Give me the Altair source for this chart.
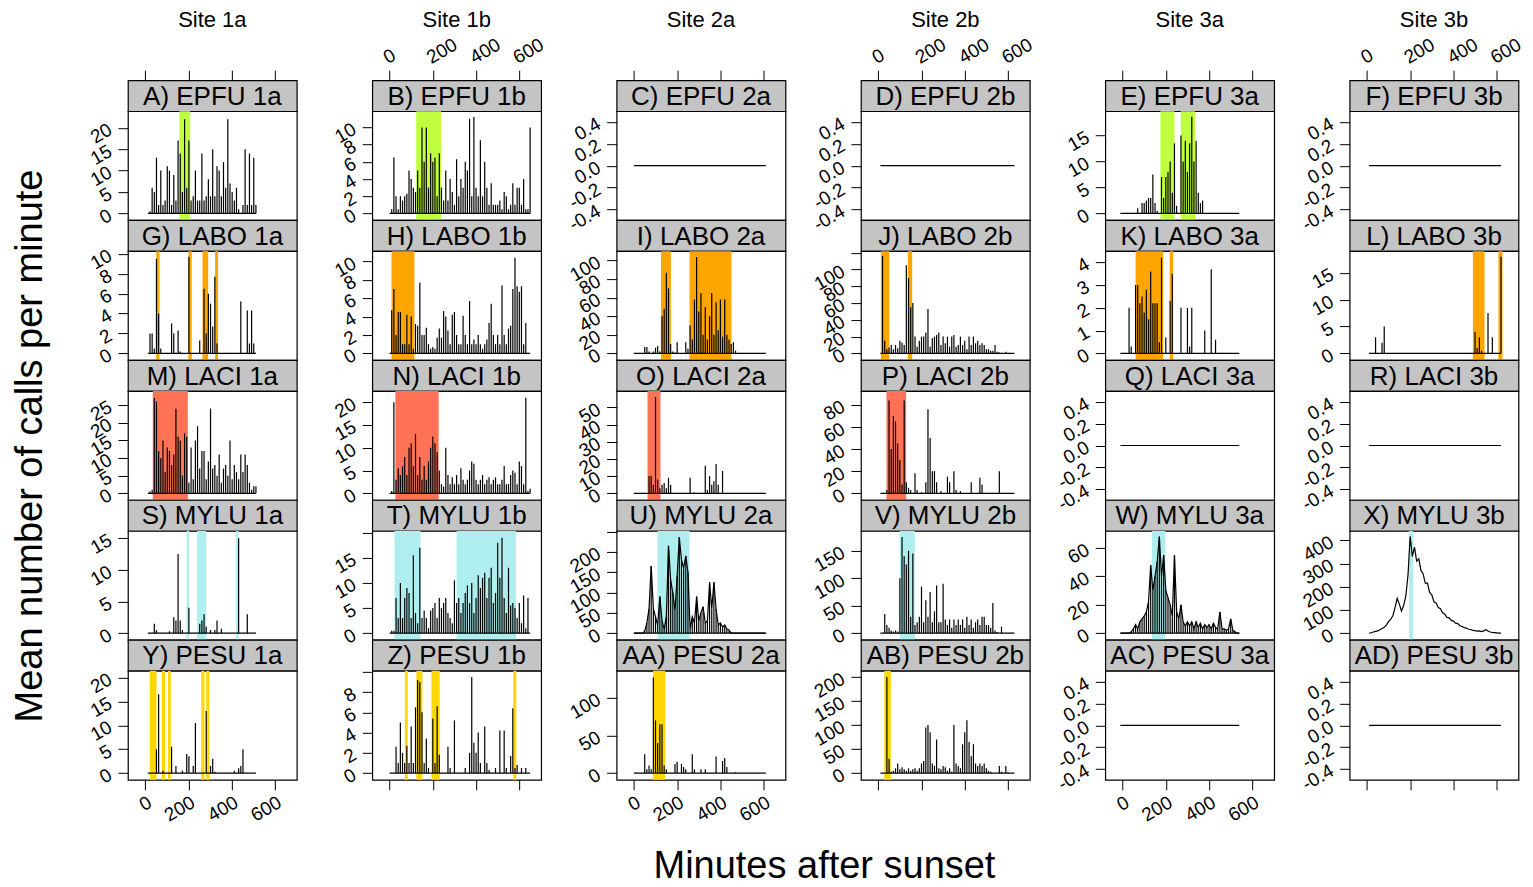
import altair as alt
import pandas as pd

FONT = "Liberation Sans"
W = 169
SH = 31
PH = 109
TITLE_H = 71
COL_GAP = 75.5
XDOM = [-80, 701]
XTICKS = [0, 200, 400, 600]
STEP = 10
STRIP_FILL = "#C4C4C4"
STRIP_FS = 26
TICK_FS = 19

SITE_LABELS = ["Site 1a", "Site 1b", "Site 2a", "Site 2b", "Site 3a", "Site 3b"]
SITE_CODES = ["1a", "1b", "2a", "2b", "3a", "3b"]
SPECIES = ["EPFU", "LABO", "LACI", "MYLU", "PESU"]
LETTERS = [
    ["A", "B", "C", "D", "E", "F"],
    ["G", "H", "I", "J", "K", "L"],
    ["M", "N", "O", "P", "Q", "R"],
    ["S", "T", "U", "V", "W", "X"],
    ["Y", "Z", "AA", "AB", "AC", "AD"],
]
SITE_START = [12, 0, 0, 10, -10, 10]
SITE_END = [512, 650, 610, 630, 540, 620]
BAND_COLORS = {"EPFU": "#C0FF3E", "LABO": "#FFA500", "LACI": "#FF7256",
               "MYLU": "#AEEEEE", "PESU": "#FFD700"}
X_TITLE = "Minutes after sunset"
Y_TITLE = "Mean number of calls per minute"
# panels drawn as a continuous curve only / curve on top of the per-minute spikes
CURVE_ONLY = ["X"]
CURVE_AND_SPIKES = ["U", "W"]

# ---- series values (mean calls per minute, one value every 10 minutes from the site start)
A_vals = [0, 0.5, 6, 5, 13, 2, 10, 2, 3, 11, 10, 2, 9, 3, 17, 14, 5, 22, 6, 17, 3, 4, 10, 3, 3,
          14, 3, 4, 8, 4, 15, 4, 11, 10, 4, 12, 6, 22, 7, 5, 3, 6, 1, 0, 2, 15, 2, 14, 2, 13, 2]
G_vals = [0, 2, 2, 0.5, 9.5, 4, 0.5, 0, 0, 0, 0, 3, 2, 0, 2.3, 0.2, 0, 0, 0, 9.7,
          0, 0, 0, 0, 1.3, 0, 6.5, 2, 6, 5, 2.7, 7.7, 1, 0, 0, 0, 0, 0, 0, 0,
          0, 0, 0, 5.2, 0, 0, 4.3, 1, 4.3, 1, 0]
M_vals = [0, 0.5, 1, 27, 26, 12, 10, 15, 6, 13, 12, 8, 11, 24, 16, 15, 5, 17, 16, 3,
          13, 4, 15, 19, 7, 12, 12, 4, 9, 24, 7, 8, 5, 11, 3, 7, 8, 5, 15, 4,
          8, 6, 4, 11, 6, 11, 8, 3, 1, 2, 2]
S_vals = [0, 0, 0, 1.5, 0.5, 0, 0, 0, 0, 0, 0.3, 0, 2.5, 2, 12.5, 2, 0.5, 0, 0, 4,
          0, 0, 0, 0, 1.5, 2, 3, 1, 0, 0.5, 0, 0.5, 2, 0, 0.7, 0, 0, 0, 0, 0,
          0, 0, 15, 0, 0, 0, 3, 0, 0, 0, 0]
Y_vals = [0, 0, 0, 0, 5, 16.5, 0, 0.5, 0, 0, 0, 5.5, 0, 1.5, 0, 0, 0.5, 0, 4, 3.5,
          0, 1.5, 10.5, 0, 0, 0, 0, 13, 0, 1.5, 3, 0.3, 0, 0, 0, 0, 0, 0, 0, 0,
          0.5, 0, 1, 1.5, 5, 0, 0, 0, 0, 0, 0]
B_vals = [0, 0.5, 6.5, 2, 0.5, 2, 1.5, 2, 2.3, 5, 4, 3, 2.5, 5, 3, 10, 6, 10, 3, 7,
          6, 6.5, 2, 7, 3, 1.5, 5, 1.5, 4, 2.5, 1, 6.3, 2, 4, 3, 6, 5, 11, 2, 11.2,
          3, 2, 8.5, 2, 6, 3, 1, 3.5, 1, 1, 1, 1.5, 0.5, 2.5, 2, 0.5, 1, 3.5, 1, 3,
          3, 1, 4, 0.5, 0.5, 10]
H_vals = [0, 4.7, 7, 2, 4.5, 4.5, 1, 1, 4.2, 1, 4, 0.5, 3.2, 3, 7.7, 2, 2, 2.8, 1, 0.5,
          0.7, 0.5, 1.7, 2.7, 1.7, 4.6, 4, 2.5, 1, 4.2, 4.5, 2, 1, 1, 4.1, 2, 1, 5.7, 1, 1.5,
          1, 2, 1, 0.5, 1, 1.5, 3.3, 5.4, 2, 1, 2, 1, 7.4, 2, 1, 2.7, 3, 7, 10.4, 7.3,
          6.7, 7.3, 1, 3.3, 0, 0]
N_vals = [0, 0.5, 20, 3, 5.5, 4, 6, 8, 4, 10, 11, 6, 13, 4, 8, 3, 6, 3, 7, 10,
          12.5, 11, 9, 5, 2, 1.5, 10, 4, 2, 3.5, 2, 4, 2, 5.5, 3, 2, 3, 5, 7, 6.5,
          3, 2, 3, 4, 2, 3, 3.5, 2, 3, 3.5, 2, 2, 3, 6, 2, 2, 4, 5, 4.5, 2,
          7, 6, 2, 21, 0.5, 1]
T_vals = [0, 0.5, 0.5, 7, 3, 10, 3, 7, 9, 8, 3, 15.5, 4, 2, 17, 3, 4.5, 3, 1, 4.5,
          5, 6, 3, 7, 5, 6, 7, 4, 3, 2, 10.5, 6, 7, 4, 6, 8, 9.5, 6, 10, 4,
          7, 11.5, 9, 11, 12, 7, 11, 13, 6, 8, 18, 11, 19, 7, 4, 13, 5.5, 6, 5, 3,
          6, 2, 7.5, 1, 7, 0]
Z_vals = [0, 0, 0, 2.6, 1, 5, 2, 1, 2.7, 1, 4.6, 1, 6.5, 9.2, 9, 6, 1, 3.4, 0.5, 0,
          5.4, 1, 6.6, 1.8, 0, 0, 0, 2.6, 0.5, 0, 5.2, 0, 0, 0, 0, 0.5, 0, 2, 9.5, 3,
          2, 4, 1, 0, 4.6, 1, 0.3, 0, 0, 0.5, 0, 4.2, 0, 4.2, 0.5, 0, 1.7, 6.4, 0.5, 0.8,
          0, 0.5, 0, 0.5, 0, 0]
I_vals = [0, 0, 0, 0, 0, 7, 7, 2, 0, 2, 6, 8, 2, 40, 48, 87, 70, 10, 2, 1,
          12, 0, 0, 0, 12, 5, 30, 15, 58, 104, 45, 65, 20, 50, 15, 40, 65, 20, 55, 25,
          58, 18, 58, 20, 15, 10, 12, 3, 0, 0, 0, 0, 0, 0, 0, 0, 0, 0, 0, 0, 0, 0]
O_vals = [0, 0, 0, 0, 0, 0, 0, 10, 10, 5, 56, 8, 3, 5, 6, 3, 9, 5, 0, 0,
          0, 0, 0, 0, 0, 0, 9, 0, 0.5, 0, 0, 0, 0, 16, 2, 10, 5, 7, 17, 5,
          0, 13, 0, 0, 0, 0, 0, 0, 0, 0, 0, 0, 0, 0, 0, 0, 0, 0, 0, 0, 0, 0]
U_vals = [0, 0, 0, 0, 0, 5, 25, 60, 165, 60, 40, 20, 90, 30, 10, 40, 215, 130, 100, 55,
          140, 236, 180, 160, 190, 150, 10, 40, 25, 90, 30, 50, 65, 25, 30, 125, 60, 125, 60, 20,
          25, 15, 20, 10, 8, 0, 0, 0, 0, 0, 0, 0, 0, 0, 0, 0, 0, 0, 0, 0, 0, 0]
AA_vals = [0, 0, 0, 0, 0, 25, 5, 10, 5, 127, 70, 40, 65, 65, 10, 5, 0, 0, 0, 12,
           15, 0, 12, 8, 5, 0, 0, 25, 5, 0, 0, 5, 0, 5, 0.5, 0, 0, 0, 22, 0,
           0, 16, 20, 8, 0, 0, 0, 1, 0, 0, 0, 0, 0, 0, 0, 0, 0, 0, 0, 0, 0, 0]
J_vals = [0, 116, 15, 5, 7, 10, 5, 10, 6, 15, 13, 10, 105, 90, 55, 60, 20, 8, 15, 20,
          20, 25, 53, 8, 18, 20, 22, 25, 10, 20, 12, 20, 8, 20, 22, 8, 10, 20, 10, 15,
          5, 20, 10, 20, 12, 15, 10, 12, 10, 5, 5, 3, 3, 10, 2, 1, 0, 0, 2, 0, 0, 0, 0]
P_vals = [0, 0, 0, 3, 84, 40, 70, 65, 45, 30, 8, 84, 10, 5, 3, 0, 18, 3, 0, 1,
          0, 10, 76, 50, 20, 20, 10, 0, 2, 0, 0, 15, 10, 0, 20, 3, 0, 2, 0, 0,
          0, 0, 10, 0, 0, 0, 14, 8, 0, 0, 0, 0, 0, 0, 0, 20, 0, 0, 0, 0, 0, 0, 0]
V_vals = [0, 0, 35, 15, 10, 5, 3, 5, 3, 100, 175, 140, 125, 150, 30, 145, 15, 20, 30, 85,
          20, 60, 30, 75, 20, 40, 87, 20, 20, 90, 25, 15, 25, 10, 25, 15, 25, 15, 25, 10,
          30, 15, 25, 10, 20, 25, 15, 30, 30, 15, 15, 10, 55, 5, 2, 0, 12, 0, 0, 0, 0, 0, 0]
AB_vals = [0, 0, 0, 200, 30, 3, 5, 10, 20, 8, 12, 8, 5, 10, 5, 8, 10, 5, 10, 20,
           25, 95, 100, 85, 20, 15, 70, 10, 8, 15, 12, 5, 10, 3, 100, 20, 15, 10, 60, 85,
           110, 65, 35, 60, 20, 15, 20, 15, 20, 10, 5, 3, 0, 0, 0, 15, 3, 0, 15, 2, 0, 0, 0]
E_vals = [0, 0, 0, 0, 0, 0, 0, 0, 1, 0, 2, 2, 2.5, 3, 3, 7.5, 2, 0.5, 0, 7,
          3, 7, 8, 10, 4, 13.5, 1.5, 0, 15, 10, 14, 8, 13.5, 18.6, 10, 14, 4, 2, 2.5, 0,
          0, 0, 0, 0, 0, 0, 0, 0, 0, 0, 0, 0, 0, 0, 0, 0]
K_vals = [0, 0, 0, 0, 2, 0.3, 0, 3, 3, 2.2, 2.5, 1.8, 2.8, 1.5, 3.6, 2.2, 2.2, 2.2, 0.5, 4.2,
          0, 0.7, 0, 2.3, 3.5, 0, 0, 0, 2, 0, 0, 2, 0.3, 2, 0, 0, 0, 0, 0, 1,
          0, 0, 3.7, 0, 0.6, 0, 0, 0, 0, 0, 0, 0, 0, 0, 0, 0]
W_vals = [0, 0, 0, 0, 0, 1, 3, 6, 3, 8, 10, 12, 15, 22, 48, 30, 40, 50, 68, 40,
          55, 30, 25, 20, 12, 55, 15, 10, 20, 8, 5, 8, 5, 8, 3, 8, 4, 7, 3, 6,
          4, 6, 3, 7, 4, 3, 15, 3, 3, 2, 3, 10, 2, 1, 0, 0]
L_vals = [0, 0, 0, 3, 0, 0, 2, 5, 0, 0, 0, 0, 0, 0, 0, 0, 0, 0, 0, 0,
          0, 0, 0, 0, 0, 0, 0, 0, 0, 0, 0, 0, 0, 0, 0, 0, 0, 0, 0, 0,
          0, 0, 0, 0, 0, 0, 0, 0, 0, 4, 1, 3, 0.5, 0, 0, 7.5, 0, 3, 0, 0, 0, 18]
X_vals = [0, 2, 5, 8, 10, 15, 20, 25, 35, 50, 60, 75, 110, 150, 125, 95, 120, 160, 250, 417,
          330, 370, 310, 320, 270, 255, 215, 215, 175, 165, 135, 130, 110, 105, 88, 82, 68, 66, 55, 52,
          43, 41, 32, 29, 24, 22, 17, 16, 12, 11, 9, 10, 7, 10, 15, 9, 5, 3, 2, 1, 0, 0]

SERIES = {"A": A_vals, "B": B_vals, "E": E_vals, "G": G_vals, "H": H_vals, "I": I_vals,
          "J": J_vals, "K": K_vals, "L": L_vals, "M": M_vals, "N": N_vals, "O": O_vals,
          "P": P_vals, "S": S_vals, "T": T_vals, "U": U_vals, "V": V_vals, "W": W_vals,
          "X": X_vals, "Y": Y_vals, "Z": Z_vals, "AA": AA_vals, "AB": AB_vals}

# ---- highlighted periods (start, end minute)
BANDS = {
    "A": [(158, 208)], "B": [(123, 238)], "E": [(175, 240), (269, 335)],
    "G": [(51, 66), (200, 215), (265, 291), (323, 337)], "H": [(9, 115)],
    "I": [(125, 171), (257, 451)], "J": [(12, 51), (137, 157)],
    "K": [(60, 188), (218, 234)], "L": [(490, 544), (608, 627)],
    "M": [(35, 197)], "N": [(27, 227)], "O": [(63, 123)], "P": [(38, 129)],
    "S": [(191, 203), (240, 282), (420, 432)], "T": [(23, 143), (310, 585)],
    "U": [(109, 257)], "V": [(100, 169)], "W": [(135, 198)], "X": [(194, 214)],
    "Y": [(21, 52), (77, 92), (105, 118), (259, 274), (282, 297)],
    "Z": [(71, 84), (124, 152), (194, 232), (572, 586)],
    "AA": [(88, 145)], "AB": [(28, 58)],
}

# ---- y axes
YMAX = {"A": 22.3, "B": 11.1, "E": 18.4, "G": 9.6, "H": 10.4, "I": 103, "J": 114,
        "K": 4.2, "L": 17.8, "M": 27.1, "N": 21, "O": 55.7, "P": 86.4, "S": 15.1,
        "T": 19, "U": 235, "V": 174, "W": 67.3, "X": 411, "Y": 20, "Z": 9.44,
        "AA": 127, "AB": 199}
YTICKS = {"A": [0, 5, 10, 15, 20], "B": [0, 2, 4, 6, 8, 10], "E": [0, 5, 10, 15],
          "G": [0, 2, 4, 6, 8, 10], "H": [0, 2, 4, 6, 8, 10], "I": [0, 20, 40, 60, 80, 100],
          "J": [0, 20, 40, 60, 80, 100, 120], "K": [0, 1, 2, 3, 4], "L": [0, 5, 10, 15],
          "M": [0, 5, 10, 15, 20, 25], "N": [0, 5, 10, 15, 20], "O": [0, 10, 20, 30, 40, 50],
          "P": [0, 20, 40, 60, 80], "S": [0, 5, 10, 15], "T": [0, 5, 10, 15, 20],
          "U": [0, 50, 100, 150, 200, 250], "V": [0, 50, 100, 150], "W": [0, 20, 40, 60],
          "X": [0, 100, 200, 300, 400], "Y": [0, 5, 10, 15, 20], "Z": [0, 2, 4, 6, 8, 10],
          "AA": [0, 50, 100], "AB": [0, 50, 100, 150, 200]}
YLABEL_MAX = {"J": 100, "T": 15, "U": 200, "Z": 8}
EMPTY_TICKS = [-0.4, -0.2, 0.0, 0.2, 0.4]
EMPTY_DOMAIN = [-0.5, 0.5]

XSCALE = alt.Scale(domain=XDOM, nice=False, zero=False)
NO_STROKE = alt.ViewBackground(stroke="transparent")


def x_axis(orient, labels):
    return alt.Axis(orient=orient, values=XTICKS, labels=labels, labelAngle=-30,
                    labelAlign="right" if orient == "bottom" else "left",
                    labelBaseline="top" if orient == "bottom" else "bottom",
                    labelPadding=3, tickSize=10, title=None, grid=False, domain=False,
                    format="d", labelFontSize=TICK_FS, labelFont=FONT,
                    labelOverlap=False, labelFlush=False,
                    labelColor="black", tickColor="black")


def text_layer(text, x, y, size, angle=0):
    return alt.Chart(pd.DataFrame({"t": [text]})).mark_text(
        font=FONT, fontSize=size, color="black", baseline="middle", align="center", angle=angle
    ).encode(text="t:N", x=alt.value(x), y=alt.value(y))


def make_plot(letter, species, ci, ri):
    vals = SERIES.get(letter)
    start = SITE_START[ci]
    if vals is None:
        line_df = pd.DataFrame({"x": [start, SITE_END[ci]], "y": [0, 0]})
        ydom = EMPTY_DOMAIN
        ticks = EMPTY_TICKS
        lexpr = "datum.value < 0 ? '-' + format(-datum.value, '.1f') : format(datum.value, '.1f')"
    else:
        line_df = pd.DataFrame({"x": [start + STEP * i for i in range(len(vals))], "y": vals})
        m = YMAX[letter]
        ydom = [-0.07 * m, 1.07 * m]
        ticks = YTICKS[letter]
        lmax = YLABEL_MAX.get(letter, max(ticks))
        lexpr = f"datum.value <= {lmax} ? format(datum.value, 'd') : ''"
    yaxis = alt.Axis(values=ticks, labelExpr=lexpr, labelAngle=-30, labelAlign="right",
                     labelBaseline="middle", tickSize=10, labelPadding=8, title=None,
                     grid=False, domain=False, labelFontSize=TICK_FS, labelFont=FONT,
                     labelOverlap=False, labelFlush=False,
                     labelColor="black", tickColor="black")
    xaxis = x_axis("bottom", ci % 2 == 0) if ri == 4 else None
    yscale = alt.Scale(domain=ydom, nice=False, zero=False)
    xenc = alt.X("x:Q", scale=XSCALE, axis=xaxis)
    yenc = alt.Y("y:Q", scale=yscale, axis=yaxis)
    layers = []
    bands = BANDS.get(letter, [])
    if bands:
        bdf = pd.DataFrame({"x0": [b[0] for b in bands], "x1": [b[1] for b in bands]})
        layers.append(
            alt.Chart(bdf).mark_rect(color=BAND_COLORS[species], opacity=1).encode(
                x=alt.X("x0:Q", scale=XSCALE, axis=xaxis), x2="x1:Q",
                y=alt.value(0), y2=alt.value(PH)))
    if vals is None or letter in CURVE_ONLY:
        layers.append(alt.Chart(line_df).mark_line(color="black", strokeWidth=1.2).encode(
            x=xenc, y=yenc))
    else:
        base_df = pd.DataFrame({"x": [start, SITE_END[ci]], "y": [0, 0]})
        layers.append(alt.Chart(base_df).mark_line(color="black", strokeWidth=1.2).encode(
            x=xenc, y=yenc))
        layers.append(alt.Chart(line_df).mark_rule(color="black", strokeWidth=1.2).encode(
            x=xenc, y=yenc, y2=alt.datum(0)))
        if letter in CURVE_AND_SPIKES:
            layers.append(alt.Chart(line_df).mark_line(color="black", strokeWidth=1.2).encode(
                x=xenc, y=yenc))
    # overall axis titles, placed relative to chosen panels
    if ri == 2 and ci == 0:
        layers.append(text_layer(Y_TITLE, -97, 55, 38, angle=270))
    if ri == 4 and ci == 2:
        layers.append(text_layer(X_TITLE, 208, 196, 38))
    return alt.layer(*layers).properties(
        width=W, height=PH,
        view=alt.ViewBackground(fill="white", stroke="black", strokeWidth=1.2))


def make_strip(label, ci, ri):
    txt = text_layer(label, W / 2, SH / 2 + 1, STRIP_FS)
    if ri == 0:
        ax = alt.Chart(pd.DataFrame({"x": [0]})).mark_point(opacity=0).encode(
            x=alt.X("x:Q", scale=XSCALE, axis=x_axis("top", ci % 2 == 1)))
        ch = alt.layer(ax, txt)
    else:
        ch = txt
    return ch.properties(width=W, height=SH,
                         view=alt.ViewBackground(fill=STRIP_FILL, stroke="black", strokeWidth=1.2))


def make_title(text):
    return text_layer(text, W / 2, 11, 22).properties(width=W, height=TITLE_H, view=NO_STROKE)


cells = [make_title(SITE_LABELS[ci]) for ci in range(6)]
for ri, sp in enumerate(SPECIES):
    for ci, site in enumerate(SITE_CODES):
        cells.append(make_strip(f"{LETTERS[ri][ci]}) {sp} {site}", ci, ri))
    for ci, site in enumerate(SITE_CODES):
        cells.append(make_plot(LETTERS[ri][ci], sp, ci, ri))

chart = alt.concat(
    *cells, columns=6, spacing={"row": 0, "column": COL_GAP}, bounds="flush"
).properties(padding={"left": 3, "top": 0, "right": 0, "bottom": 0}, background="white")

chart.save("out.html", embed_options={"renderer": "svg", "actions": False})
